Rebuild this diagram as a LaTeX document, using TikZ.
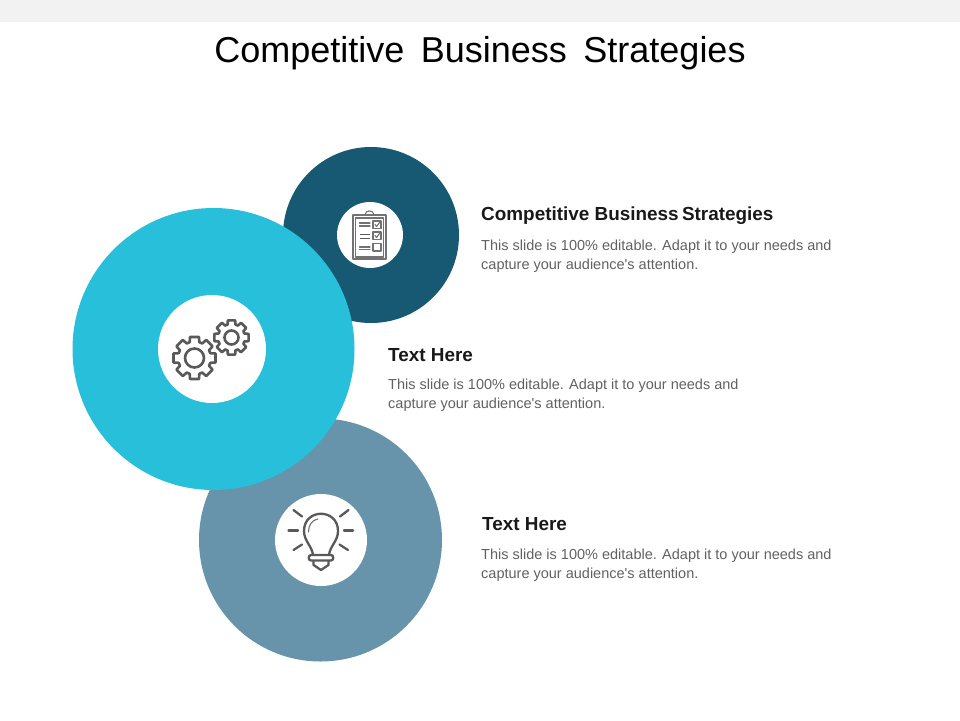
\documentclass[tikz,border=0pt]{standalone}
\usepackage{fontspec}
\usetikzlibrary{calc}
\setmainfont{Liberation Sans}
\definecolor{topbar}{HTML}{F2F2F2}
\definecolor{navyc}{HTML}{175873}
\definecolor{cyanc}{HTML}{27BFDA}
\definecolor{steelc}{HTML}{6794AA}
\definecolor{iconc}{HTML}{595959}
\tikzset{
  titletext/.style={anchor=base,font=\fontsize{36}{40}\selectfont,text=black},
  headtext/.style={anchor=base west,inner sep=0pt,font=\fontsize{18.9}{22}\bfseries\selectfont,text=black!90},
  bodytext/.style={anchor=base west,inner sep=0pt,font=\fontsize{14.5}{19}\selectfont,text=black!62},
  iconline/.style={draw=iconc,line width=2.3pt,line cap=round,line join=round},
  thinline/.style={draw=iconc!85,line width=1.1pt,line cap=round,line join=round}
}
% center, outer radius, root radius, hole radius
\newcommand{\gearicon}[4]{
  \draw[iconline,line width=2.6pt] ($(#1)+(-17:#3)$)
    \foreach \a in {0,45,...,315}{
      -- ($(#1)+(\a-12:#2)$) -- ($(#1)+(\a+12:#2)$) -- ($(#1)+(\a+17:#3)$) -- ($(#1)+(\a+28:#3)$)
    } -- cycle;
  \draw[iconline,line width=2.6pt] (#1) circle (#4);
}
\begin{document}
\begin{tikzpicture}[x=1pt,y=-1pt]
\useasboundingbox (0,0) rectangle (960,720);
\def\navycircle{(371,235) circle (88)}
\def\steelcircle{(320.5,540) circle (121.5)}
\def\cyancircle{(213.5,349) circle (141)}

\fill[topbar] (0,0) rectangle (960,22);
\fill[navyc] \navycircle;
\fill[steelc] \steelcircle;
\fill[cyanc] \cyancircle;
\fill[white] (370,235) circle (33);
\fill[white] (212,349) circle (54);
\fill[white] (321,540) circle (46);

\node[titletext] (title) at (480,62.5) {Competitive\hspace{.18em} Business\hspace{.18em} Strategies};

\node[headtext] (headone) at (481,220) {Competitive Business\hspace{-.1em} Strategies};
\node[bodytext] (bodyonea) at (481,250.5) {This slide is 100\% editable. Adapt it to your needs and};
\node[bodytext] (bodyoneb) at (481,269.5) {capture your audience\textquotesingle s attention.};

\node[headtext] (headtwo) at (388,361) {Text Here};
\node[bodytext] (bodytwoa) at (388,389.5) {This slide is 100\% editable. Adapt it to your needs and};
\node[bodytext] (bodytwob) at (388,408.5) {capture your audience\textquotesingle s attention.};

\node[headtext] (headthree) at (482,530) {Text Here};
\node[bodytext] (bodythreea) at (481,559.5) {This slide is 100\% editable. Adapt it to your needs and};
\node[bodytext] (bodythreeb) at (481,578.5) {capture your audience\textquotesingle s attention.};

% gears
\gearicon{194.5,358}{21.5}{16.5}{9.5}
\gearicon{231.5,337.5}{17.5}{13.5}{7}

% clipboard
\draw[thinline] (353,215) rectangle (386,259);
\draw[thinline] (355.5,218) rectangle (383.5,257);
\draw[thinline] (365,215) .. controls (365,209.5) and (374,209.5) .. (374,215);
\foreach \y in {221,232,243.5}
  \draw[thinline] (373,\y) rectangle (381,\y+7.5);
\draw[thinline] (375,224.5) -- (376.5,226.5) -- (379.5,222.5);
\draw[thinline] (375,235.5) -- (376.5,237.5) -- (379.5,233.5);
\foreach \y in {223,226,247,249.5}
  \draw[thinline] (359.5,\y) -- (370,\y);
\foreach \y in {234,238}
  \draw[draw=iconc,line width=.7pt] (359.5,\y) -- (370,\y);

% bulb
\draw[iconline] (313,555) .. controls (312,546) and (304,541) .. (304,531) .. controls (304,508) and (338,508) .. (338,531) .. controls (338,541) and (330,546) .. (329,555);
\draw[iconline] (311,555) -- (331,555) .. controls (334,555) and (334,560.5) .. (331,560.5) -- (311,560.5) .. controls (308,560.5) and (308,555) .. (311,555);
\draw[iconline] (313.5,561) -- (313.5,565) -- (321,570) -- (328.5,565) -- (328.5,561);
\draw[thinline] (308.5,532) .. controls (308.5,525) and (312,520) .. (318,519);
\draw[iconline] (288.5,530.5) -- (298,530.5);
\draw[iconline] (344,530.5) -- (353,530.5);
\draw[iconline] (293.5,510) -- (302,516.5);
\draw[iconline] (348.5,510) -- (340,516.5);
\draw[iconline] (293.5,550) -- (302,544.5);
\draw[iconline] (348,550) -- (339.5,544.5);
\end{tikzpicture}
\end{document}
